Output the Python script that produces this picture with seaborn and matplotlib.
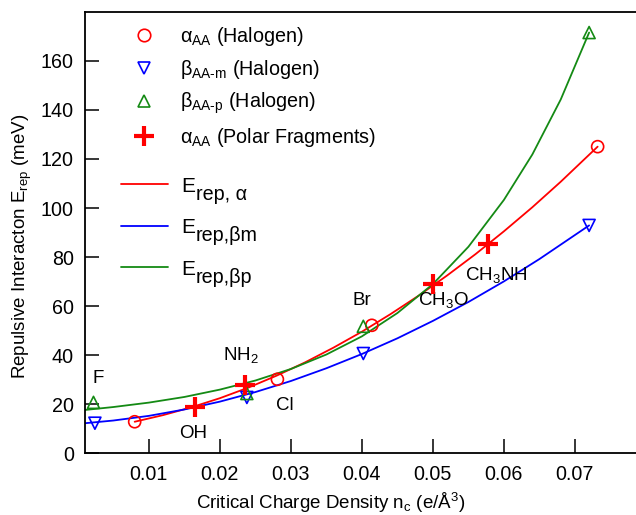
import matplotlib
matplotlib.use("Agg")
import matplotlib.pyplot as plt
from matplotlib.lines import Line2D
import seaborn as sns

# measured points
alpha_x = [0.0080, 0.0281, 0.0414, 0.0732]
alpha_y = [12.9, 30.2, 52.2, 125.0]
beta_m_x = [0.0024, 0.0238, 0.0402, 0.0720]
beta_m_y = [12.3, 22.8, 40.7, 92.9]
beta_p_x = [0.0022, 0.0238, 0.0402, 0.0720]
beta_p_y = [20.8, 24.4, 51.8, 171.5]
polar_x = [0.0165, 0.0235, 0.0500, 0.0578]
polar_y = [19.0, 27.8, 69.2, 85.4]

# fitted curves
fit_a_x = [0.008, 0.012, 0.016, 0.020, 0.024, 0.028, 0.032, 0.036, 0.040,
           0.044, 0.048, 0.052, 0.056, 0.060, 0.064, 0.068, 0.0732]
fit_a_y = [12.9, 15.6, 18.8, 22.5, 26.8, 31.7, 37.1, 43.1, 49.6,
           56.7, 64.3, 72.5, 81.2, 90.5, 100.3, 110.7, 125.0]
fit_m_x = [0.001, 0.005, 0.010, 0.015, 0.020, 0.025, 0.030, 0.035, 0.040,
           0.045, 0.050, 0.055, 0.060, 0.065, 0.072]
fit_m_y = [12.3, 13.4, 15.3, 17.9, 21.1, 25.0, 29.5, 34.7, 40.5,
           46.9, 54.0, 61.7, 70.1, 79.2, 92.9]
fit_p_x = [0.001, 0.005, 0.010, 0.015, 0.020, 0.025, 0.030, 0.035, 0.040,
           0.045, 0.050, 0.055, 0.060, 0.064, 0.068, 0.072]
fit_p_y = [17.7, 18.9, 20.7, 23.0, 26.0, 29.7, 34.4, 40.3, 47.7,
           57.2, 69.0, 84.2, 103.3, 121.8, 144.2, 171.5]

labels = ["F", "OH", "NH$_2$", "Cl", "Br", "CH$_3$O", "CH$_3$NH"]
label_x = [0.0028, 0.0162, 0.0230, 0.0292, 0.0400, 0.0514, 0.0589]
label_y = [30.7, 8.3, 40.0, 19.7, 62.4, 62.4, 72.6]

marker_names = [
    "α$_\\mathrm{AA}$ (Halogen)",
    "β$_\\mathrm{AA\\text{-}m}$ (Halogen)",
    "β$_\\mathrm{AA\\text{-}p}$ (Halogen)",
    "α$_\\mathrm{AA}$ (Polar Fragments)",
]
fit_subs = ["rep, α", "rep,βm", "rep,βp"]

red = "#ff0000"
blue = "#0000ff"
green = "#148a14"

sns.set_style("ticks")
plt.rcParams["font.family"] = ["Liberation Sans", "DejaVu Sans"]
plt.rcParams["mathtext.fontset"] = "custom"
plt.rcParams["mathtext.rm"] = "Liberation Sans"
plt.rcParams["mathtext.it"] = "Liberation Sans:italic"
plt.rcParams["text.color"] = "black"
plt.rcParams["axes.labelcolor"] = "black"
plt.rcParams["xtick.color"] = "black"
plt.rcParams["ytick.color"] = "black"
plt.rcParams["axes.edgecolor"] = "black"

fig = plt.figure(figsize=(6.36, 5.15), dpi=100)
ax = fig.add_axes([0.1336, 0.1196, 0.882, 0.8577])

sns.lineplot(x=fit_a_x, y=fit_a_y, color=red, lw=1.3, ax=ax)
sns.lineplot(x=fit_m_x, y=fit_m_y, color=blue, lw=1.3, ax=ax)
sns.lineplot(x=fit_p_x, y=fit_p_y, color=green, lw=1.3, ax=ax)

sns.scatterplot(x=alpha_x, y=alpha_y, marker="o", s=75, facecolor="none",
                edgecolor=red, linewidth=1.2, ax=ax, zorder=3)
sns.scatterplot(x=beta_m_x, y=beta_m_y, marker="v", s=75, facecolor="none",
                edgecolor=blue, linewidth=1.2, ax=ax, zorder=3)
sns.scatterplot(x=beta_p_x, y=beta_p_y, marker="^", s=75, facecolor="none",
                edgecolor=green, linewidth=1.2, ax=ax, zorder=3)
sns.scatterplot(x=polar_x, y=polar_y, marker="+", s=220, color=red,
                linewidth=3, ax=ax, zorder=4)

for t, tx, ty in zip(labels, label_x, label_y):
    ax.text(tx, ty, t, fontsize=13.5, ha="center", va="center")

ax.set_xlim(0.001, 0.08)
ax.set_ylim(0, 180)
ax.set_xticks([0.01, 0.02, 0.03, 0.04, 0.05, 0.06, 0.07])
ax.set_yticks([0, 20, 40, 60, 80, 100, 120, 140, 160])
ax.tick_params(direction="in", length=10, width=1.1, labelsize=14.2, pad=8)
for s in ax.spines.values():
    s.set_linewidth(1.3)
ax.spines["right"].set_visible(False)

ax.set_xlabel("Critical Charge Density n$_\\mathrm{c}$ (e/Å$^3$)", fontsize=13.5, labelpad=5)
ax.set_ylabel("Repulsive Interacton E$_\\mathrm{rep}$ (meV)", fontsize=13.5, labelpad=5)
ax.xaxis.label.set_x(0.4385)
ax.yaxis.label.set_y(0.47)

marker_handles = [
    Line2D([], [], ls="none", marker="o", mfc="none", mec=red, ms=9, mew=1.2),
    Line2D([], [], ls="none", marker="v", mfc="none", mec=blue, ms=9, mew=1.2),
    Line2D([], [], ls="none", marker="^", mfc="none", mec=green, ms=9, mew=1.2),
    Line2D([], [], ls="none", marker="+", color=red, ms=14, mew=3),
]
leg1 = ax.legend(marker_handles, marker_names, loc="upper left", frameon=False,
                 fontsize=14.2, handlelength=2.5, handletextpad=0.55,
                 labelspacing=0.5, bbox_to_anchor=(0.03, 1.01))
ax.add_artist(leg1)

line_handles = [Line2D([], [], color=c, lw=1.3) for c in (red, blue, green)]
leg2 = ax.legend(line_handles, ["E", "E", "E"], loc="upper left", frameon=False,
                 fontsize=15, handlelength=2.3, handletextpad=0.6,
                 labelspacing=1.08, bbox_to_anchor=(0.03, 0.669))

# subscripts of the fit entries, set next to each "E"
fig.canvas.draw()
W, H = fig.get_size_inches() * fig.dpi
for txt, sub in zip(leg2.get_texts(), fit_subs):
    bb = txt.get_window_extent()
    fig.text((bb.x1 + 1) / W, (bb.y0 - 4) / H, sub, fontsize=14.2,
             ha="left", va="baseline")

fig.savefig("out.png", dpi=100)
plt.close(fig)
